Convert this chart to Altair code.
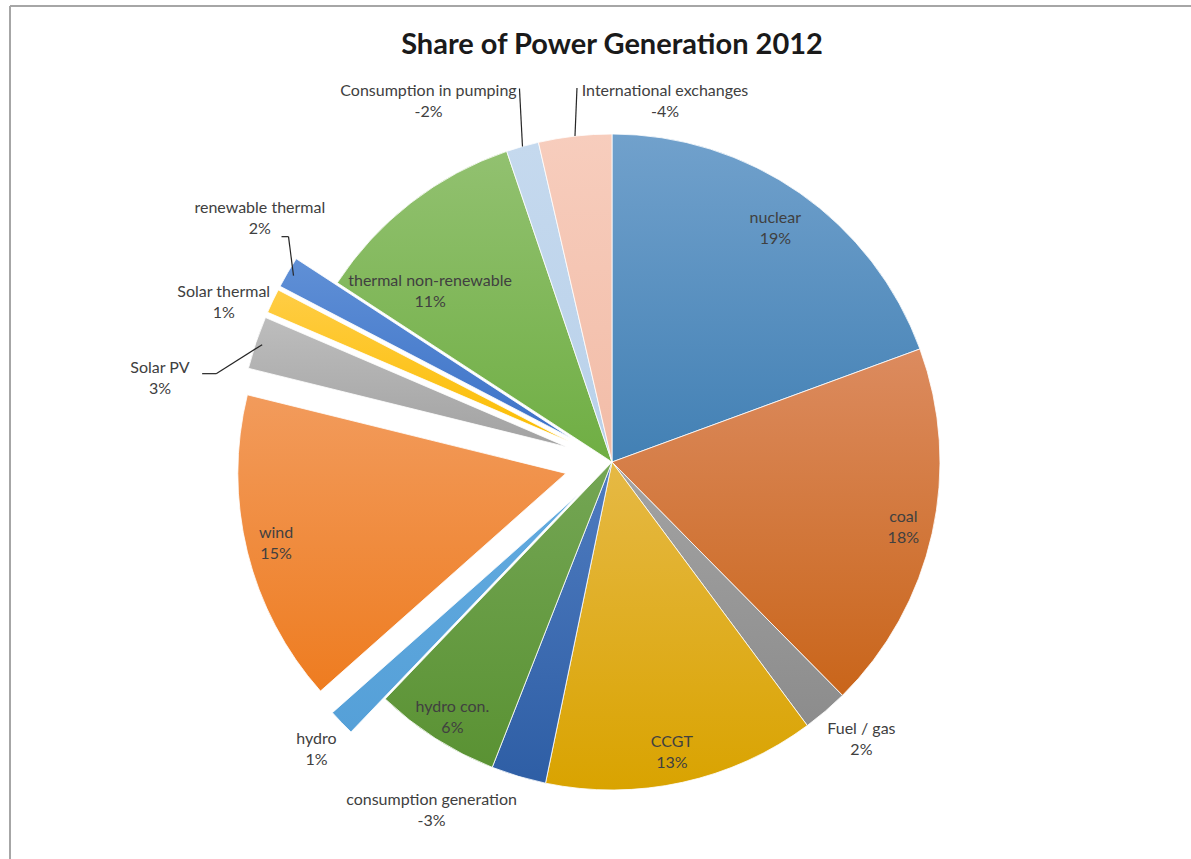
import math
import altair as alt
import pandas as pd

# ---------------- data ----------------
categories = [
    "nuclear", "coal", "Fuel / gas", "CCGT", "consumption generation",
    "hydro con.", "hydro", "wind", "Solar PV", "Solar thermal",
    "renewable thermal", "thermal non-renewable",
    "Consumption in pumping", "International exchanges",
]
shares = [19.4, 18.2, 2.25, 13.4, -2.7, 6.2, 1.3, 15.4, 2.6, 1.2, 1.55, 10.6, -1.6, -3.6]

title_text = "Share of Power Generation 2012"

# ---------------- styles ----------------
colors_top = [
    "#71a1cc", "#dc8b5f", "#a3a3a3", "#e6b945", "#4f7cc0",
    "#74a654", "#62aadf", "#f29b5c", "#bdbdbd", "#ffcd45",
    "#6090d6", "#92c170", "#c5d9ee", "#f7cdbd",
]
colors_bottom = [
    "#4280b4", "#c9651a", "#8c8c8c", "#d9a300", "#2e5ea5",
    "#5a9233", "#55a0d8", "#ee7c20", "#a2a2a2", "#fbbd00",
    "#3c72c8", "#6fae43", "#b9d1ea", "#f2bca7",
]
explode = {"hydro": 0.145, "wind": 0.145, "Solar PV": 0.145,
           "Solar thermal": 0.145, "renewable thermal": 0.145}
# label placement: (radius fraction along the slice bisector, dx, dy)
label_place = {
    "nuclear": (0.87, 0, 0),
    "coal": (0.91, 0, 0),
    "Fuel / gas": (1.0, 36, 28),
    "CCGT": (0.905, -4, 0),
    "consumption generation": (1.0, -87, 34),
    "hydro con.": (0.915, 2, 2),
    "hydro": (1.0, -25, 26),
    "wind": (0.91, 0, -2),
    "Solar PV": (1.0, -96, 35),
    "Solar thermal": (1.0, -49, 1),
    "renewable thermal": (1.0, -28, -54),
    "thermal non-renewable": (0.9, -1, 62),
    "Consumption in pumping": (1.0, -94, -45),
    "International exchanges": (1.0, 90, -35),
}
# leader lines: (start radius fraction, elbow dx, elbow dy, tail dx)
leaders = {
    "International exchanges": (1.0, 2, -48, 0),
    "Consumption in pumping": (1.0, -3, -58, 0),
    "renewable thermal": (0.98, -5, -39, -7),
    "Solar PV": (0.98, -46, 29, -14),
}

W, H = 1191, 859
CX, CY, R = 612, 462, 328
total = sum(abs(v) for v in shares)

rows = []
for i, (c, v) in enumerate(zip(categories, shares)):
    lk, ldx, ldy = label_place[c]
    ld = leaders.get(c, (1.0, 0, 0, 0))
    rows.append(dict(order=i, category=c, share=v, explode=explode.get(c, 0.0),
                     lk=lk, ldx=ldx, ldy=ldy, leader=1 if c in leaders else 0,
                     sk=ld[0], ex=ld[1], ey=ld[2], tx=ld[3]))
df = pd.DataFrame(rows)

base = (
    alt.Chart(df)
    .transform_calculate(a="abs(datum.share)")
    .transform_window(cum="sum(a)", sort=[alt.SortField("order")], frame=[None, 0])
    .transform_calculate(t0="datum.cum - datum.a")
    .transform_calculate(mid=f"(datum.cum - datum.a / 2) / {total} * 2 * PI")
    .transform_calculate(pct=f"round(datum.share / {total} * 100)")
    .transform_calculate(cx=f"{CX} + datum.explode * {R} * sin(datum.mid)")
    .transform_calculate(cy=f"{CY} - datum.explode * {R} * cos(datum.mid)")
)

theta_scale = alt.Scale(domain=[0, total], range=[0, 2 * math.pi])

layers = []
for c, ct, cb in zip(categories, colors_top, colors_bottom):
    grad = alt.LinearGradient(
        gradient="linear", x1=0, y1=0, x2=0, y2=1,
        stops=[alt.GradientStop(color=ct, offset=0), alt.GradientStop(color=cb, offset=1)],
    )
    layers.append(
        base.transform_filter(alt.datum.category == c)
        .mark_arc(radius=R, fill=grad, stroke="white", strokeWidth=0.8)
        .encode(
            theta=alt.Theta("t0:Q", scale=theta_scale, stack=None),
            theta2="cum:Q",
            x=alt.X("cx:Q", scale=None),
            y=alt.Y("cy:Q", scale=None),
        )
    )

labels = (
    base.transform_calculate(lx=f"datum.cx + datum.lk * {R} * sin(datum.mid) + datum.ldx")
    .transform_calculate(ly=f"datum.cy - datum.lk * {R} * cos(datum.mid) + datum.ldy")
    .transform_calculate(lab="[datum.category, datum.pct + '%']")
    .mark_text(font="Lato", fontSize=16, color="#404040", align="center",
               baseline="middle", lineHeight=21, dy=-10)
    .encode(x=alt.X("lx:Q", scale=None), y=alt.Y("ly:Q", scale=None), text="lab:N")
)

lead = (
    base.transform_filter(alt.datum.leader == 1)
    .transform_calculate(sx=f"datum.cx + datum.sk * {R} * sin(datum.mid)")
    .transform_calculate(sy=f"datum.cy - datum.sk * {R} * cos(datum.mid)")
    .transform_calculate(bx="datum.sx + datum.ex", by="datum.sy + datum.ey")
)
lead1 = lead.mark_rule(color="#262626", strokeWidth=1.2).encode(
    x=alt.X("sx:Q", scale=None), y=alt.Y("sy:Q", scale=None), x2="bx:Q", y2="by:Q")
lead2 = lead.transform_calculate(tx2="datum.bx + datum.tx").mark_rule(
    color="#262626", strokeWidth=1.2).encode(
    x=alt.X("bx:Q", scale=None), y=alt.Y("by:Q", scale=None), x2="tx2:Q", y2="by:Q")

title = alt.Chart(pd.DataFrame({"t": [title_text]})).mark_text(
    font="Lato", fontSize=29, fontWeight="bold", color="#1a1a1a",
    align="center", baseline="middle").encode(
    text="t:N", x=alt.value(612), y=alt.value(45))

border_top = alt.Chart(pd.DataFrame({"t": [0]})).mark_rule(color="#a6a6a6", strokeWidth=2).encode(
    x=alt.value(10), x2=alt.value(W), y=alt.value(6))
border_left = alt.Chart(pd.DataFrame({"t": [0]})).mark_rule(color="#a6a6a6", strokeWidth=2).encode(
    x=alt.value(10), y=alt.value(6), y2=alt.value(H))

chart = alt.layer(border_top, border_left, *layers, lead1, lead2, labels, title).properties(
    width=W, height=H, padding=0, autosize=alt.AutoSizeParams(type="none"),
    background="white",
).configure_view(strokeWidth=0)

chart.save("out.html", embed_options={"renderer": "svg", "actions": False})
